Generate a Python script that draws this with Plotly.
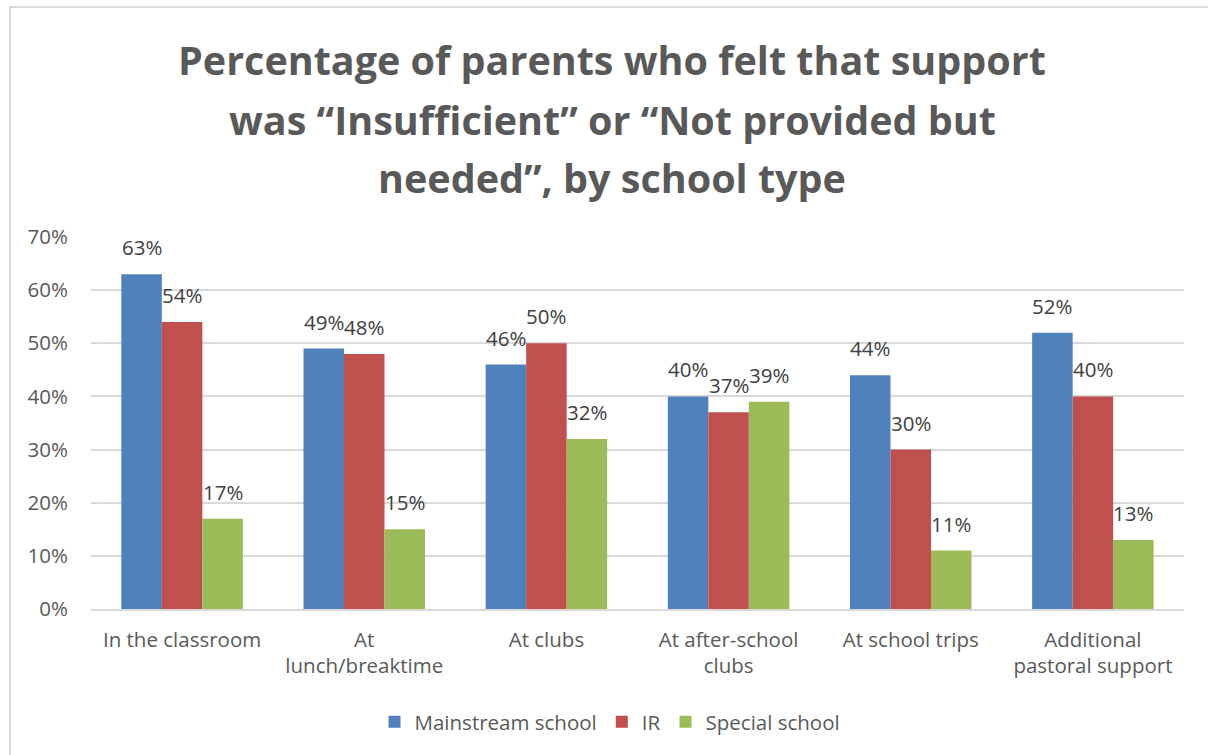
import plotly.graph_objects as go

# Survey results by support setting and school type (percent)
categories = [
    "In the classroom",
    "At<br>lunch/breaktime",
    "At clubs",
    "At after-school<br>clubs",
    "At school trips",
    "Additional<br>pastoral support",
]
mainstream = [63, 49, 46, 40, 44, 52]
ir = [54, 48, 50, 37, 30, 40]
special = [17, 15, 32, 39, 11, 13]

series_names = ["Mainstream school", "IR", "Special school"]
series_values = [mainstream, ir, special]
series_colors = ["#4F81BD", "#C0504D", "#9BBB59"]

title_lines = [
    "Percentage of parents who felt that support",
    "was \u201cInsufficient\u201d or \u201cNot provided but",
    "needed\u201d, by school type",
]

W, H = 1208, 755
L, R, T, B = 91, 24, 237, 146
plot_w = W - L - R
plot_h = H - T - B
FONT = "Open Sans"
TEXT = "#595959"
LABEL = "#404040"

fig = go.Figure()
for name, vals, col in zip(series_names, series_values, series_colors):
    fig.add_trace(go.Bar(
        x=categories, y=vals, name=name,
        marker=dict(color=col, line=dict(width=0)),
    ))

bargap = 0.333
slot = plot_w / len(categories)
bar_w = slot * (1 - bargap) / len(series_names)

annotations = []
# value labels above each bar
for s, vals in enumerate(series_values):
    for c, v in zip(categories, vals):
        annotations.append(dict(
            x=c, y=v, xref="x", yref="y", text=f"{v}%",
            showarrow=False, xanchor="center", yanchor="bottom",
            xshift=(s - 1) * bar_w, yshift=11,
            font=dict(family=FONT, size=20.5, color=LABEL),
        ))

# title, one annotation per line
title_y_px = [60, 120, 178]
for line, ypx in zip(title_lines, title_y_px):
    annotations.append(dict(
        x=(612 - L) / plot_w, y=(H - B - ypx) / plot_h,
        xref="paper", yref="paper", text=f"<b>{line}</b>",
        showarrow=False, xanchor="center", yanchor="middle",
        font=dict(family=FONT, size=39.5, color=TEXT),
    ))

# chart frame
frame = dict(
    type="rect", xref="paper", yref="paper",
    x0=(10 - L) / plot_w, x1=1.2,
    y0=-1.0, y1=(H - B - 7) / plot_h,
    line=dict(color="#D9D9D9", width=2), fillcolor="rgba(0,0,0,0)",
    layer="below",
)

fig.update_layout(
    width=W, height=H,
    margin=dict(l=L, r=R, t=T, b=B, pad=0),
    paper_bgcolor="white", plot_bgcolor="white",
    barmode="group", bargap=bargap, bargroupgap=0,
    font=dict(family=FONT, color=TEXT),
    annotations=annotations,
    shapes=[frame],
    showlegend=True,
    legend=dict(
        orientation="h", x=0.505, xanchor="center", xref="container",
        y=(H - 722) / H, yref="container", yanchor="middle",
        font=dict(family=FONT, size=20.5, color=TEXT),
        itemwidth=30, traceorder="normal",
    ),
    xaxis=dict(
        showgrid=False, showline=True, linecolor="#D9D9D9", linewidth=2,
        ticks="", tickfont=dict(family=FONT, size=20.5, color=TEXT),
        ticklabelstandoff=11,
    ),
    yaxis=dict(
        range=[0, 70], dtick=10, ticksuffix="%",
        showgrid=True, gridcolor="#D9D9D9", gridwidth=2,
        zeroline=False, showline=False, ticks="",
        tickfont=dict(family=FONT, size=20.5, color=TEXT),
        ticklabelstandoff=22,
    ),
)

fig.write_html("out.html")
